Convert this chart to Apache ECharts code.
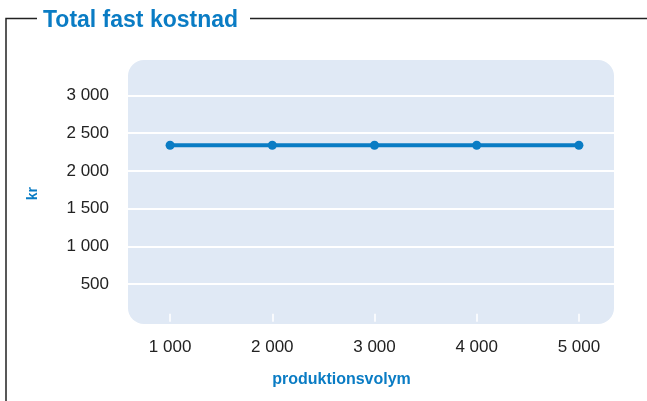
<!DOCTYPE html>
<html><head><meta charset="utf-8">
<script src="https://cdn.jsdelivr.net/npm/echarts@6/dist/echarts.min.js"></script>
<style>html,body{margin:0;padding:0;background:#fff}#c{width:647px;height:401px}</style>
</head><body><div id="c"></div>
<script>
const categories = ['1 000', '2 000', '3 000', '4 000', '5 000'];
const fixedCost = [2340, 2340, 2340, 2340, 2340];
const yTicks = [500, 1000, 1500, 2000, 2500, 3000];

const chart = echarts.init(document.getElementById('c'), null, {renderer: 'canvas'});
const blue = '#0a7cc4';
chart.setOption({
  animation: false,
  textStyle: {fontFamily: 'Liberation Sans, Arial, sans-serif'},
  title: {
    text: 'Total fast kostnad', left: 38, top: 4,
    textStyle: {color: blue, fontSize: 23, fontWeight: 'bold', fontFamily: 'Liberation Sans, Arial, sans-serif'}
  },
  graphic: [
    {type: 'polyline', shape: {points: [[6, 401], [6, 18.5], [37, 18.5]]}, style: {stroke: '#222', lineWidth: 1.5, fill: null}, z: 0},
    {type: 'line', shape: {x1: 250, y1: 18.5, x2: 647, y2: 18.5}, style: {stroke: '#222', lineWidth: 1.5}, z: 0},
    {type: 'rect', shape: {x: 128, y: 60, width: 486, height: 264, r: 16}, style: {fill: '#e0e9f5'}, z: -10}
  ],
  grid: {left: 119, width: 511, top: 57.8, height: 263.9, containLabel: false},
  xAxis: {
    type: 'category', data: categories, boundaryGap: true,
    name: 'produktionsvolym', nameLocation: 'middle', nameGap: 50,
    nameTextStyle: {color: blue, fontWeight: 'bold', fontSize: 16, padding: [0, 66, 0, 0]},
    axisLine: {show: false},
    axisTick: {show: true, inside: true, alignWithLabel: true, length: 8, lineStyle: {color: '#fff', width: 1.5}},
    axisLabel: {color: '#222', fontSize: 17, margin: 17}
  },
  yAxis: {
    type: 'value', min: 0, max: 3500, interval: 500,
    name: 'kr', nameLocation: 'middle', nameGap: 79, nameRotate: 90,
    nameTextStyle: {color: blue, fontWeight: 'bold', fontSize: 14, padding: [0, 8, 0, 0]},
    axisLine: {show: false}, axisTick: {show: false},
    axisLabel: {
      color: '#222', fontSize: 17, margin: 10,
      formatter: v => yTicks.includes(v) ? String(v).replace(/\B(?=(\d{3})+(?!\d))/g, ' ') : ''
    },
    splitLine: {show: true, showMinLine: false, showMaxLine: false, lineStyle: {color: '#fff', width: 1.8}}
  },
  series: [{
    type: 'line', data: fixedCost,
    symbol: 'circle', symbolSize: 9,
    lineStyle: {color: blue, width: 4},
    itemStyle: {color: blue}
  }]
});
</script></body></html>
